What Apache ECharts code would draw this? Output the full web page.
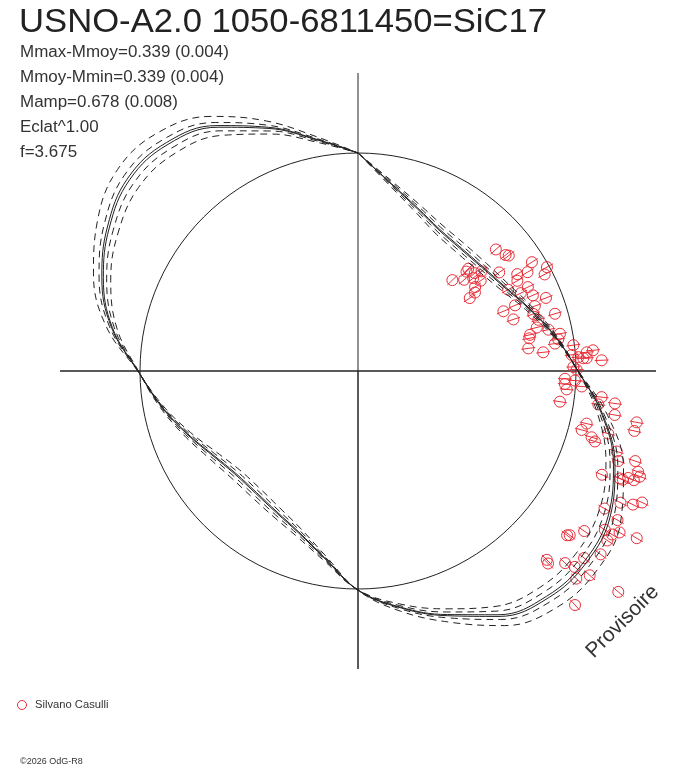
<!DOCTYPE html>
<html>
<head>
<meta charset="utf-8">
<script src="https://cdn.jsdelivr.net/npm/echarts@6.0.0/dist/echarts.min.js"></script>
<style>
  html, body { margin: 0; padding: 0; background: #fff; }
  #chart { width: 688px; height: 768px; }
</style>
</head>
<body>
<div id="chart"></div>
<script>
// light curve folded on phase: angle = phase (0 at top, clockwise), radius = relative level (mean = 1)
const fitPhase = [0, 0.028, 0.056, 0.083, 0.111, 0.139, 0.167, 0.194, 0.222, 0.25,
  0.278, 0.306, 0.333, 0.361, 0.389, 0.417, 0.444, 0.472, 0.5, 0.528, 0.556, 0.583,
  0.611, 0.639, 0.667, 0.694, 0.722, 0.75, 0.778, 0.806, 0.833, 0.861, 0.889, 0.917,
  0.944, 0.972, 1];
const fitLevel = [1.000, 0.872, 0.794, 0.748, 0.734, 0.743, 0.775, 0.835, 0.917, 1.009,
  1.138, 1.252, 1.330, 1.362, 1.353, 1.294, 1.193, 1.101, 1.005, 0.872, 0.789, 0.748,
  0.729, 0.734, 0.771, 0.835, 0.917, 1.009, 1.147, 1.248, 1.321, 1.372, 1.362, 1.294,
  1.188, 1.078, 1.000];

// fit curve and error envelopes, as multiples of the fitted deviation (above / below mean)
const bandScaleHigh = [1.18, 1.07, 1.015, 0.985, 0.92, 0.84];
const bandScaleLow = [1.10, 1.05, 1.01, 0.99, 0.95, 0.90];
const bandDashed = [true, true, false, false, true, true];

const obsPhase = [0.135, 0.144, 0.146, 0.161, 0.170, 0.131, 0.132, 0.139, 0.142, 0.128,
  0.137, 0.142, 0.149, 0.153, 0.163, 0.166, 0.174, 0.168, 0.151, 0.156, 0.158, 0.171,
  0.177, 0.179, 0.185, 0.187, 0.188, 0.191, 0.194, 0.200, 0.205, 0.199, 0.206, 0.212,
  0.216, 0.217, 0.220, 0.221, 0.225, 0.228, 0.229, 0.234, 0.231, 0.238, 0.240, 0.237,
  0.241, 0.236, 0.243, 0.241, 0.247, 0.249, 0.256, 0.260, 0.264, 0.257, 0.261, 0.274,
  0.267, 0.272, 0.270, 0.277, 0.279, 0.284, 0.286, 0.291, 0.294, 0.296, 0.289, 0.298,
  0.303, 0.300, 0.305, 0.314, 0.312, 0.310, 0.307, 0.312, 0.310, 0.324, 0.322, 0.319,
  0.331, 0.333, 0.341, 0.338, 0.341, 0.345, 0.336, 0.356, 0.355, 0.348, 0.353, 0.375,
  0.376, 0.369, 0.367, 0.360, 0.365, 0.371, 0.362, 0.381];
const obsLevel = [0.843, 0.861, 0.871, 0.941, 0.989, 0.690, 0.675, 0.699, 0.728, 0.601,
  0.642, 0.679, 0.699, 0.790, 0.855, 0.900, 0.964, 0.840, 0.661, 0.646, 0.612, 0.783,
  0.869, 0.828, 0.874, 0.781, 0.721, 0.925, 0.864, 0.846, 0.941, 0.751, 0.860, 0.844,
  0.894, 0.806, 0.800, 0.942, 0.930, 0.912, 0.788, 0.854, 0.995, 0.983, 1.013, 1.053,
  1.051, 1.082, 1.119, 1.035, 0.988, 1.003, 0.950, 0.951, 0.961, 0.996, 1.029, 0.937,
  1.124, 1.113, 1.188, 1.195, 1.300, 1.297, 1.076, 1.061, 1.114, 1.134, 1.183, 1.243,
  1.263, 1.337, 1.366, 1.216, 1.298, 1.333, 1.381, 1.313, 1.361, 1.347, 1.402, 1.436,
  1.295, 1.373, 1.346, 1.410, 1.386, 1.383, 1.491, 1.220, 1.229, 1.271, 1.395, 1.225,
  1.241, 1.296, 1.340, 1.346, 1.417, 1.382, 1.566, 1.464];
const obsError = 0.032;

const meanLevel = 1;
const crossLevel = 1.367;
const crossPhase = [0, 0.25, 0.5, 0.75];

const ink = '#222';
const red = '#e8303a';
const font = '"Liberation Sans", Arial, sans-serif';

const chart = echarts.init(document.getElementById('chart'));

const crossData = [];
crossPhase.forEach(p => { crossData.push([crossLevel, p], [0, 0]); });

const circleData = [];
for (let i = 0; i <= 120; i++) circleData.push([meanLevel, i / 120]);

const bandSeries = bandDashed.map((dashed, k) => ({
  type: 'line',
  coordinateSystem: 'polar',
  data: fitPhase.map((p, i) => {
    const dev = fitLevel[i] - meanLevel;
    const s = dev >= 0 ? bandScaleHigh[k] : bandScaleLow[k];
    return [meanLevel + s * dev, p];
  }),
  smooth: 0.4,
  showSymbol: false,
  silent: true,
  z: 4,
  lineStyle: { color: ink, width: 1, type: dashed ? [7, 5] : 'solid' }
}));

const hidden = {
  axisLine: { show: false }, axisTick: { show: false },
  axisLabel: { show: false }, splitLine: { show: false }
};

const info = ['Mmax-Mmoy=0.339 (0.004)', 'Mmoy-Mmin=0.339 (0.004)', 'Mamp=0.678 (0.008)',
  'Eclat^1.00', 'f=3.675'];

chart.setOption({
  animation: false,
  backgroundColor: '#fff',
  polar: { center: [358, 371], radius: 348.8 },
  angleAxis: Object.assign({ type: 'value', min: 0, max: 1, startAngle: 90, clockwise: true }, hidden),
  radiusAxis: Object.assign({ type: 'value', min: 0, max: 1.6 }, hidden),
  graphic: [
    { type: 'text', x: 19, y: 6, scaleX: 1.05,
      style: { text: 'USNO-A2.0 1050-6811450=SiC17', fill: ink, font: '33px ' + font } }
  ].concat(info.map((t, i) => ({
    type: 'text', x: 20, y: 45 + i * 25, scaleX: 1.06,
    style: { text: t, fill: '#333', font: '16px ' + font }
  }))).concat([
    { type: 'text', x: 597, y: 662, rotation: Math.PI / 4,
      style: { text: 'Provisoire', fill: '#333', font: '21px ' + font, verticalAlign: 'bottom' } },
    { type: 'circle', shape: { cx: 22, cy: 705, r: 4.5 }, style: { fill: 'transparent', stroke: red, lineWidth: 1 } },
    { type: 'text', x: 35, y: 700, scaleX: 1.12, style: { text: 'Silvano Casulli', fill: '#333', font: '10px ' + font } },
    { type: 'text', x: 20, y: 757, style: { text: '\u00a92026 OdG-R8', fill: '#333', font: '9px ' + font } }
  ]),
  series: [
    {
      type: 'line', coordinateSystem: 'polar', data: crossData,
      showSymbol: false, silent: true, z: 1,
      lineStyle: { color: ink, width: 1 }
    },
    {
      type: 'line', coordinateSystem: 'polar', data: circleData,
      showSymbol: false, silent: true, z: 1,
      lineStyle: { color: ink, width: 1 }
    },
    {
      type: 'custom', coordinateSystem: 'polar', z: 2, silent: true,
      data: obsPhase.map((p, i) => [obsLevel[i], p]),
      renderItem: function (params, api) {
        const lv = api.value(0), ph = api.value(1);
        const c = api.coord([lv, ph]);
        const a = api.coord([lv - obsError, ph]);
        const b = api.coord([lv + obsError, ph]);
        return {
          type: 'group',
          children: [
            { type: 'circle', shape: { cx: c[0], cy: c[1], r: 5.5 },
              style: { fill: 'transparent', stroke: red, lineWidth: 1 } },
            { type: 'line', shape: { x1: a[0], y1: a[1], x2: b[0], y2: b[1] },
              style: { stroke: red, lineWidth: 1 } }
          ]
        };
      }
    }
  ].concat(bandSeries)
});
</script>
</body>
</html>
